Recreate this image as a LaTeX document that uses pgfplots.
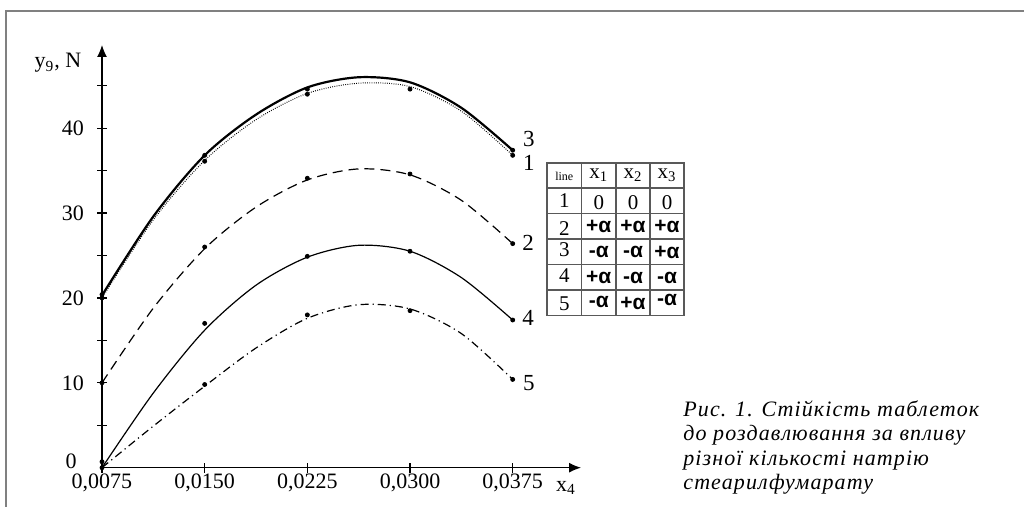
\documentclass[border=0pt]{standalone}
\usepackage{fontspec}
\setmainfont{Liberation Serif}
\newfontfamily\capfont{Liberation Serif}[LetterSpace=5]
\newfontfamily\sansfont{Liberation Sans}
\usepackage{pgfplots}
\pgfplotsset{compat=1.18}
\usetikzlibrary{arrows.meta}

\newcommand{\pa}{{\sansfont\bfseries\fontsize{10.5}{12}\selectfont +α}}
\newcommand{\ma}{{\sansfont\bfseries\fontsize{10.5}{12}\selectfont -α}}

\begin{document}
\begin{tikzpicture}
\useasboundingbox (0,0) rectangle (512pt,253.5pt);
% frame of the figure box (cropped)
\draw[black!50, line width=0.8pt] (3pt,0) -- (3pt,248pt) -- (512pt,248pt);

\begin{axis}[
  at={(51pt,19.65pt)}, anchor=south west,
  scale only axis, width=239.5pt, height=211.35pt,
  xmin=0.0075, xmax=0.04249, ymin=0, ymax=49.8,
  axis x line=bottom, axis y line=left,
  axis line style={line width=0.6pt},
  x axis line style={-{Latex[length=6pt,width=5pt]}},
  y axis line style={-{Latex[length=6pt,width=5pt]}},
  scaled x ticks=false,
  xtick={0.0075,0.015,0.0225,0.03,0.0375},
  xticklabels={{0,0075},{0,0150},{0,0225},{0,0300},{0,0375}},
  ytick={10,20,30,40}, minor ytick={5,15,25,35,45},
  tick align=center, major tick length=5pt, minor tick length=5pt,
  tick style={line width=0.6pt, black},
  /pgf/number format/assume math mode=true,
  tick label style={font=\fontsize{11}{12}\selectfont},
  xticklabel style={yshift=3pt},
  yticklabel style={xshift=-3pt},
  clip=false,
  mark size=1pt,
]
% fitted curves
\addplot[black, line width=0.5pt, dash pattern=on 0.4pt off 0.7pt, smooth] coordinates {
  (0.0075,20.0)(0.01125,29.2)(0.015,36.2)(0.01875,41.0)(0.0225,44.1)
  (0.02625,45.3)(0.03,44.9)(0.03375,42.0)(0.0375,36.8)};
\addplot[black, line width=1.1pt, smooth] coordinates {
  (0.0075,20.3)(0.01125,29.6)(0.015,36.8)(0.01875,41.6)(0.0225,44.8)
  (0.02625,46.0)(0.03,45.4)(0.03375,42.4)(0.0375,37.4)};
\addplot[black, line width=0.6pt, dash pattern=on 5pt off 3pt, smooth] coordinates {
  (0.0075,10.0)(0.01125,18.8)(0.015,25.8)(0.01875,30.7)(0.0225,33.9)
  (0.02625,35.2)(0.03,34.5)(0.03375,31.5)(0.0375,26.4)};
\addplot[black, line width=0.6pt, smooth] coordinates {
  (0.0075,0.0)(0.01125,8.8)(0.015,16.2)(0.01875,21.5)(0.0225,24.8)
  (0.02625,26.2)(0.03,25.5)(0.03375,22.4)(0.0375,17.4)};
\addplot[black, line width=0.6pt, dash pattern=on 4pt off 2pt on 0.6pt off 2pt, smooth] coordinates {
  (0.0075,0.0)(0.01125,4.9)(0.015,9.6)(0.01875,14.1)(0.0225,17.6)
  (0.02625,19.2)(0.03,18.7)(0.03375,15.8)(0.0375,10.4)};
% experimental points
\addplot[only marks, mark=*, black] coordinates {
  (0.0075,20.0)(0.015,36.1)(0.0225,44.0)(0.03,44.6)(0.0375,36.8)};
\addplot[only marks, mark=*, black] coordinates {
  (0.0075,20.4)(0.015,36.8)(0.0225,44.6)(0.0375,37.4)};
\addplot[only marks, mark=*, black] coordinates {
  (0.0075,10.0)(0.015,26.0)(0.0225,34.1)(0.03,34.6)(0.0375,26.4)};
\addplot[only marks, mark=*, black] coordinates {
  (0.0075,0.7)(0.015,17.0)(0.0225,24.9)(0.03,25.5)(0.0375,17.4)};
\addplot[only marks, mark=*, black] coordinates {
  (0.0075,0.0)(0.015,9.8)(0.0225,18.0)(0.03,18.5)(0.0375,10.4)};
% curve numbers
\begin{scope}[every node/.style={font=\fontsize{11.5}{12}\selectfont}]
\node at (axis cs:0.03869,38.7) {3};
\node at (axis cs:0.03869,35.9) {1};
\node at (axis cs:0.03862,26.45) {2};
\node at (axis cs:0.03862,17.6) {4};
\node at (axis cs:0.03869,9.98) {5};
\end{scope}
\end{axis}

\begin{scope}[shift={(0pt,253.5pt)}, x=0.5pt, y=-0.5pt]
\node[font=\fontsize{11}{12}\selectfont] at (71,461) {0};
\node[font=\fontsize{11}{12}\selectfont] at (58,63) {y\textsubscript{9}, N};
\node[font=\fontsize{11}{12}\selectfont] at (566,488) {x\textsubscript{4}};
% table
\draw[black!65, line width=0.6pt] (547,163) rectangle (684,315.7);
\foreach \xx in {581.5,616,650} \draw[black!65, line width=0.6pt] (\xx,163) -- (\xx,315.7);
\foreach \yy in {188,213.5,239,264.5,290} \draw[black!65, line width=0.6pt] (547,\yy) -- (684,\yy);
\begin{scope}[every node/.style={font=\fontsize{10.5}{12}\selectfont, inner sep=0pt}]
\node[font=\fontsize{6}{7}\selectfont] at (564.25,176) {line};
\node at (598.75,175.5) {x\textsubscript{1}};
\node at (633,175.5) {x\textsubscript{2}};
\node at (667,175.5) {x\textsubscript{3}};
\node at (564.25,201) {1}; \node at (598.75,203) {0}; \node at (633,203) {0}; \node at (667,203) {0};
\node at (564.25,229) {2}; \node at (598.75,226) {\pa}; \node at (633,226) {\pa}; \node at (667,226) {\pa};
\node at (564.25,250) {3}; \node at (598.75,252) {\ma}; \node at (633,252) {\ma}; \node at (667,252) {\pa};
\node at (564.25,276) {4}; \node at (598.75,277) {\pa}; \node at (633,278) {\ma}; \node at (667,278) {\ma};
\node at (564.25,304) {5}; \node at (598.75,302) {\ma}; \node at (633,303) {\pa}; \node at (667,300) {\ma};
\end{scope}
% caption
\node[anchor=north west, align=left, inner sep=0pt,
  font=\capfont\itshape\fontsize{11}{12.3}\selectfont] at (683,400)
  {Рис. 1. Стійкість таблеток\\до роздавлювання за впливу\\різної кількості натрію\\стеарилфумарату};
\end{scope}
\end{tikzpicture}
\end{document}
